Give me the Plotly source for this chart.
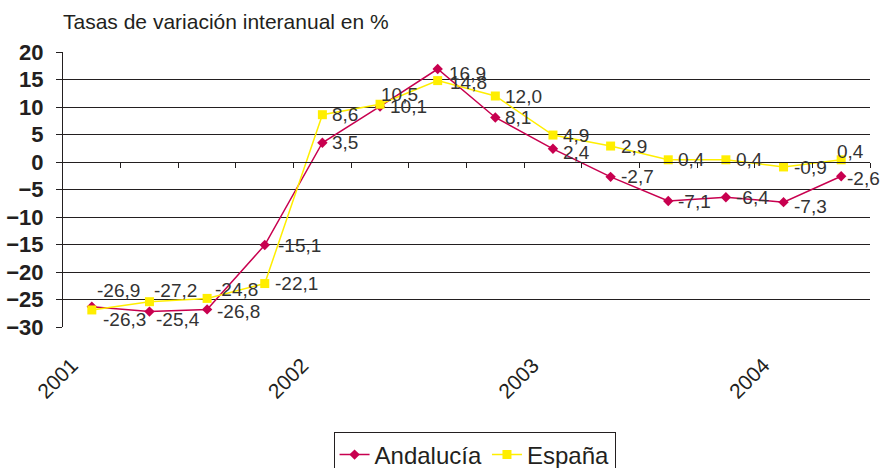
import plotly.graph_objects as go

# ---- data ----
periodos = ["I-2001", "II-2001", "III-2001", "IV-2001",
            "I-2002", "II-2002", "III-2002", "IV-2002",
            "I-2003", "II-2003", "III-2003", "IV-2003",
            "I-2004", "II-2004"]
andalucia = [-26.3, -27.2, -26.8, -15.1, 3.5, 10.1, 16.9, 8.1, 2.4, -2.7, -7.1, -6.4, -7.3, -2.6]
espana = [-26.9, -25.4, -24.8, -22.1, 8.6, 10.5, 14.8, 12.0, 4.9, 2.9, 0.4, 0.4, -0.9, 0.4]
anios = ["2001", "2002", "2003", "2004"]
titulo = "Tasas de variación interanual en %"

# ---- style ----
FONT = "Liberation Sans"
INK = "#231f20"
RED = "#c8004f"
YEL = "#ffee00"

x = list(range(len(periodos)))
tick_pos = [periodos.index("I-" + a) for a in anios]

# label offsets in pixels (dx, dy) relative to each marker; default (8, 0)
off_and = {0: (9, -13), 1: (3, 21), 2: (8, -2), 3: (11, 0), 6: (9, -4), 8: (8, -4), 12: (8, -4), 13: (4, -2)}
off_esp = {0: (3, 19), 1: (5, -18), 2: (6, 9), 5: (-1, 10), 6: (10, -2), 12: (8, -1), 13: (-6, 8)}

fig = go.Figure()
fig.add_trace(go.Scatter(
    x=x, y=andalucia, name="Andalucía", mode="lines+markers",
    line=dict(color=RED, width=1.5),
    marker=dict(symbol="diamond", size=8, color=RED),
))
fig.add_trace(go.Scatter(
    x=x, y=espana, name="España", mode="lines+markers",
    line=dict(color=YEL, width=1.5),
    marker=dict(symbol="square", size=9, color=YEL),
))


def fmt(v):
    return f"{v:.1f}".replace(".", ",")


annotations = []
for series, offs in ((andalucia, off_and), (espana, off_esp)):
    for i, v in enumerate(series):
        dx, dy = offs.get(i, (8, 0))
        annotations.append(dict(
            x=i, y=v, xref="x", yref="y", text=fmt(v), showarrow=False,
            xanchor="left", yanchor="middle", xshift=dx, yshift=dy,
            font=dict(family=FONT, size=19, color="#333333"),
        ))

fig.update_layout(
    width=882, height=468,
    margin=dict(l=63, r=12, t=52, b=141, autoexpand=False),
    paper_bgcolor="white", plot_bgcolor="white",
    font=dict(family=FONT, color=INK),
    showlegend=True,
    legend=dict(
        orientation="h", x=0.51, xanchor="center", y=-0.38, yanchor="top",
        bordercolor=INK, borderwidth=1, bgcolor="white",
        font=dict(family=FONT, size=24, color=INK),
        itemwidth=30, tracegroupgap=0,
    ),
    title=dict(
        text=titulo, x=0, xref="paper", xanchor="left",
        y=1 - 22 / 468, yanchor="middle",
        font=dict(family=FONT, size=21, color=INK),
    ),
    annotations=annotations,
    xaxis=dict(
        range=[-0.5, len(periodos) - 0.5],
        tickmode="array", tickvals=tick_pos, ticktext=anios,
        tickangle=-45, ticks="", showline=False, showgrid=False, zeroline=False,
        tickfont=dict(family=FONT, size=21, color=INK),
        ticklabelstandoff=21, ticklabelshift=-20, automargin=False,
    ),
    xaxis2=dict(
        overlaying="x", anchor="free", position=30 / 50,
        range=[-0.5, len(periodos) - 0.5],
        tickmode="array", tickvals=[i + 0.5 for i in x],
        ticks="outside", ticklen=5, tickcolor=INK, tickwidth=1,
        showticklabels=False, showline=True, linecolor=INK, linewidth=1,
        showgrid=False, zeroline=False, automargin=False,
    ),
    yaxis=dict(
        range=[-30, 20], dtick=5, tick0=0,
        showgrid=True, gridcolor=INK, gridwidth=1,
        showline=True, linecolor=INK, linewidth=1,
        ticks="outside", ticklen=6, tickcolor=INK,
        zeroline=False, automargin=False,
        tickfont=dict(family=FONT, size=22, color=INK, weight="bold"),
        ticklabelstandoff=8,
    ),
)

# dummy invisible trace on xaxis2 so the overlay axis is drawn
fig.add_trace(go.Scatter(x=[None], y=[None], xaxis="x2", showlegend=False, hoverinfo="skip"))

# remove the default page margin so the 882x468 figure fills the window exactly
fig.write_html(
    "out.html",
    config={"displayModeBar": False},
    post_script="document.body.style.margin='0';document.body.style.overflow='hidden';"
                "document.documentElement.style.overflow='hidden';",
)
